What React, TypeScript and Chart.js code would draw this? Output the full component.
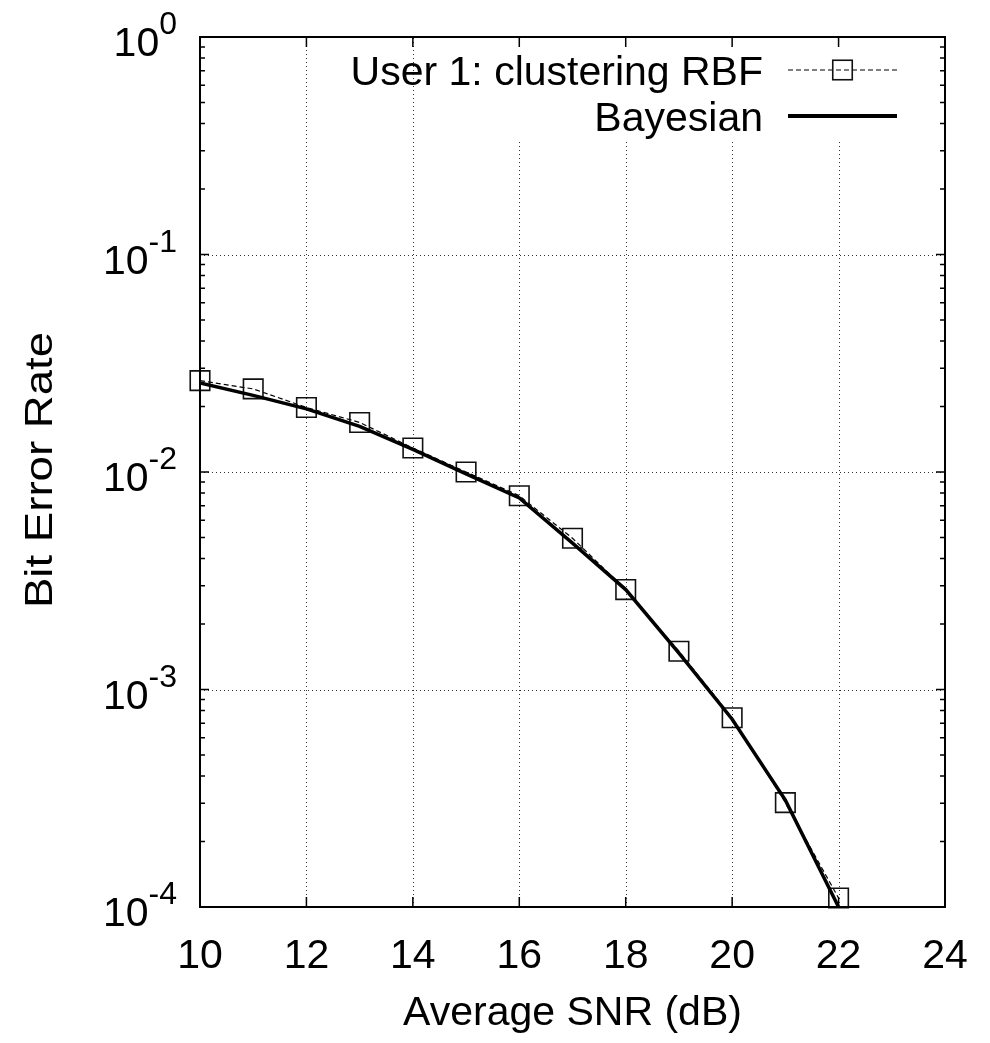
import React, { useEffect, useRef } from "react";
import { Chart, registerables } from "chart.js";

Chart.register(...registerables);

// ---- data ----
const snrDb = [10, 11, 12, 13, 14, 15, 16, 17, 18, 19, 20, 21, 22];
const rbfBer = [0.0263, 0.0241, 0.0198, 0.0169, 0.0129, 0.0100, 0.00778, 0.00496, 0.00288, 0.00150, 0.000741, 0.000302, 0.000110];
const bayesBer = [0.0257, 0.0225, 0.0195, 0.0162, 0.0127, 0.0098, 0.0076, 0.00471, 0.00288, 0.00147, 0.00073, 0.00031, 0.0001];
const seriesLabels = ["User 1: clustering RBF", "Bayesian"];

const xTickValues = [10, 12, 14, 16, 18, 20, 22, 24];
const xGridValues = [12, 14, 16, 18, 20, 22];
const yDecadeExponents = [0, -1, -2, -3, -4];
const yGridExponents = [-1, -2, -3];
const yMinorMultipliers = [2, 3, 4, 5, 6, 7, 8, 9];
const xTitle = "Average SNR (dB)";
const yTitle = "Bit Error Rate";

const FONT = '"Liberation Sans", Arial, Helvetica, sans-serif';
const MAIN_SIZE = 41;
const EXP_SIZE = 32;
const YTITLE_SIZE = 38;

const decorPlugin = {
  id: "decor",
  beforeDatasetsDraw(chart: any) {
    const { ctx, chartArea: a, scales } = chart;
    const x = scales.x;
    const y = scales.y;
    ctx.save();
    ctx.strokeStyle = "#333";
    ctx.lineWidth = 1;
    ctx.setLineDash([1, 3]);
    for (const v of xGridValues) {
      const px = Math.round(x.getPixelForValue(v)) + 0.5;
      ctx.beginPath();
      ctx.moveTo(px, a.bottom);
      ctx.lineTo(px, a.top);
      ctx.stroke();
    }
    for (const e of yGridExponents) {
      const py = Math.round(y.getPixelForValue(Math.pow(10, e))) + 0.5;
      ctx.beginPath();
      ctx.moveTo(a.left, py);
      ctx.lineTo(a.right, py);
      ctx.stroke();
    }
    ctx.setLineDash([]);
    // opaque legend box
    ctx.fillStyle = "#fff";
    ctx.fillRect(a.left + 218, a.top + 1, a.right - 8 - (a.left + 218), 102);
    ctx.restore();
  },
  afterDatasetsDraw(chart: any) {
    const { ctx, chartArea: a, scales } = chart;
    const x = scales.x;
    const y = scales.y;
    ctx.save();
    ctx.strokeStyle = "#000";
    ctx.lineWidth = 1.5;
    // x ticks (bottom and top, inward)
    for (const v of xTickValues) {
      const px = x.getPixelForValue(v);
      ctx.beginPath();
      ctx.moveTo(px, a.bottom);
      ctx.lineTo(px, a.bottom - 10);
      ctx.moveTo(px, a.top);
      ctx.lineTo(px, a.top + 10);
      ctx.stroke();
    }
    // y ticks (left and right, inward)
    for (const e of yDecadeExponents) {
      const py = y.getPixelForValue(Math.pow(10, e));
      ctx.beginPath();
      ctx.moveTo(a.left, py);
      ctx.lineTo(a.left + 9, py);
      ctx.moveTo(a.right, py);
      ctx.lineTo(a.right - 9, py);
      ctx.stroke();
      if (e > yDecadeExponents[yDecadeExponents.length - 1]) {
        for (const m of yMinorMultipliers) {
          const pm = y.getPixelForValue(m * Math.pow(10, e - 1));
          ctx.beginPath();
          ctx.moveTo(a.left, pm);
          ctx.lineTo(a.left + 5, pm);
          ctx.moveTo(a.right, pm);
          ctx.lineTo(a.right - 5, pm);
          ctx.stroke();
        }
      }
    }
    // border
    ctx.lineWidth = 2;
    ctx.strokeRect(a.left, a.top, a.right - a.left, a.bottom - a.top);

    ctx.fillStyle = "#000";
    // x tick labels
    ctx.font = `${MAIN_SIZE}px ${FONT}`;
    ctx.textAlign = "center";
    ctx.textBaseline = "alphabetic";
    for (const v of xTickValues) {
      ctx.fillText(String(v), x.getPixelForValue(v), a.bottom + 61);
    }
    // y tick labels with superscript exponent
    const R = a.left - 23;
    for (const e of yDecadeExponents) {
      const py = y.getPixelForValue(Math.pow(10, e));
      const expText = String(e);
      ctx.font = `${EXP_SIZE}px ${FONT}`;
      const ew = ctx.measureText(expText).width;
      ctx.textAlign = "left";
      ctx.fillText(expText, R - ew, py - 3);
      ctx.font = `${MAIN_SIZE}px ${FONT}`;
      ctx.textAlign = "right";
      ctx.fillText("10", R - ew, py + 19);
    }
    // axis titles
    ctx.font = `${MAIN_SIZE}px ${FONT}`;
    ctx.textAlign = "center";
    ctx.fillText(xTitle, (a.left + a.right) / 2, a.bottom + 118);
    ctx.save();
    ctx.font = `${YTITLE_SIZE}px ${FONT}`;
    ctx.translate(52, (a.top + a.bottom) / 2 - 2);
    ctx.rotate(-Math.PI / 2);
    ctx.scale(1.2, 1);
    ctx.fillText(yTitle, 0, 0);
    ctx.restore();

    // legend
    ctx.font = `${MAIN_SIZE}px ${FONT}`;
    const textRight = a.right - 182;
    const sx0 = a.right - 157;
    const sx1 = a.right - 48;
    const y1 = a.top + 33;
    const y2 = a.top + 79;
    ctx.textAlign = "right";
    ctx.fillText(seriesLabels[0], textRight, y1 + 15);
    ctx.fillText(seriesLabels[1], textRight, y2 + 15);
    ctx.lineWidth = 1.2;
    ctx.setLineDash([5, 3]);
    ctx.beginPath();
    ctx.moveTo(sx0, y1);
    ctx.lineTo(sx1, y1);
    ctx.stroke();
    ctx.setLineDash([]);
    ctx.strokeStyle = "#111";
    ctx.lineWidth = 1.6;
    const cx = (sx0 + sx1) / 2;
    ctx.strokeRect(cx - 9.75, y1 - 9.75, 19.5, 19.5);
    ctx.strokeStyle = "#000";
    ctx.lineWidth = 4;
    ctx.beginPath();
    ctx.moveTo(sx0, y2);
    ctx.lineTo(sx1, y2);
    ctx.stroke();
    ctx.restore();
  },
};

export default function App() {
  const canvasRef = useRef<HTMLCanvasElement | null>(null);

  useEffect(() => {
    const canvas = canvasRef.current;
    if (!canvas) return;
    const chart = new Chart(canvas, {
      type: "line",
      data: {
        datasets: [
          {
            label: seriesLabels[0],
            data: snrDb.map((v, i) => ({ x: v, y: rbfBer[i] })),
            borderColor: "#000",
            borderWidth: 1.2,
            borderDash: [5, 3],
            pointStyle: "rect",
            pointRadius: 13.8,
            pointBorderWidth: 1.6,
            pointBorderColor: "#111",
            pointBackgroundColor: "rgba(0,0,0,0)",
            fill: false,
            tension: 0,
            clip: false,
            order: 1,
          },
          {
            label: seriesLabels[1],
            data: snrDb.map((v, i) => ({ x: v, y: bayesBer[i] })),
            borderColor: "#000",
            borderWidth: 3.5,
            pointRadius: 0,
            fill: false,
            tension: 0,
            order: 0,
          },
        ],
      },
      options: {
        animation: false,
        responsive: false,
        devicePixelRatio: 1,
        layout: { padding: { left: 200, right: 45, top: 37, bottom: 136 } },
        scales: {
          x: { type: "linear", min: 10, max: 24, display: false },
          y: { type: "logarithmic", min: 1e-4, max: 1, display: false },
        },
        plugins: {
          legend: { display: false },
          tooltip: { enabled: false },
        },
      },
      plugins: [decorPlugin],
    } as any);
    return () => chart.destroy();
  }, []);

  return (
    <div style={{ position: "absolute", left: 0, top: 0, width: 990, height: 1043, background: "#fff" }}>
      <canvas ref={canvasRef} width={990} height={1043} style={{ display: "block" }} />
    </div>
  );
}
